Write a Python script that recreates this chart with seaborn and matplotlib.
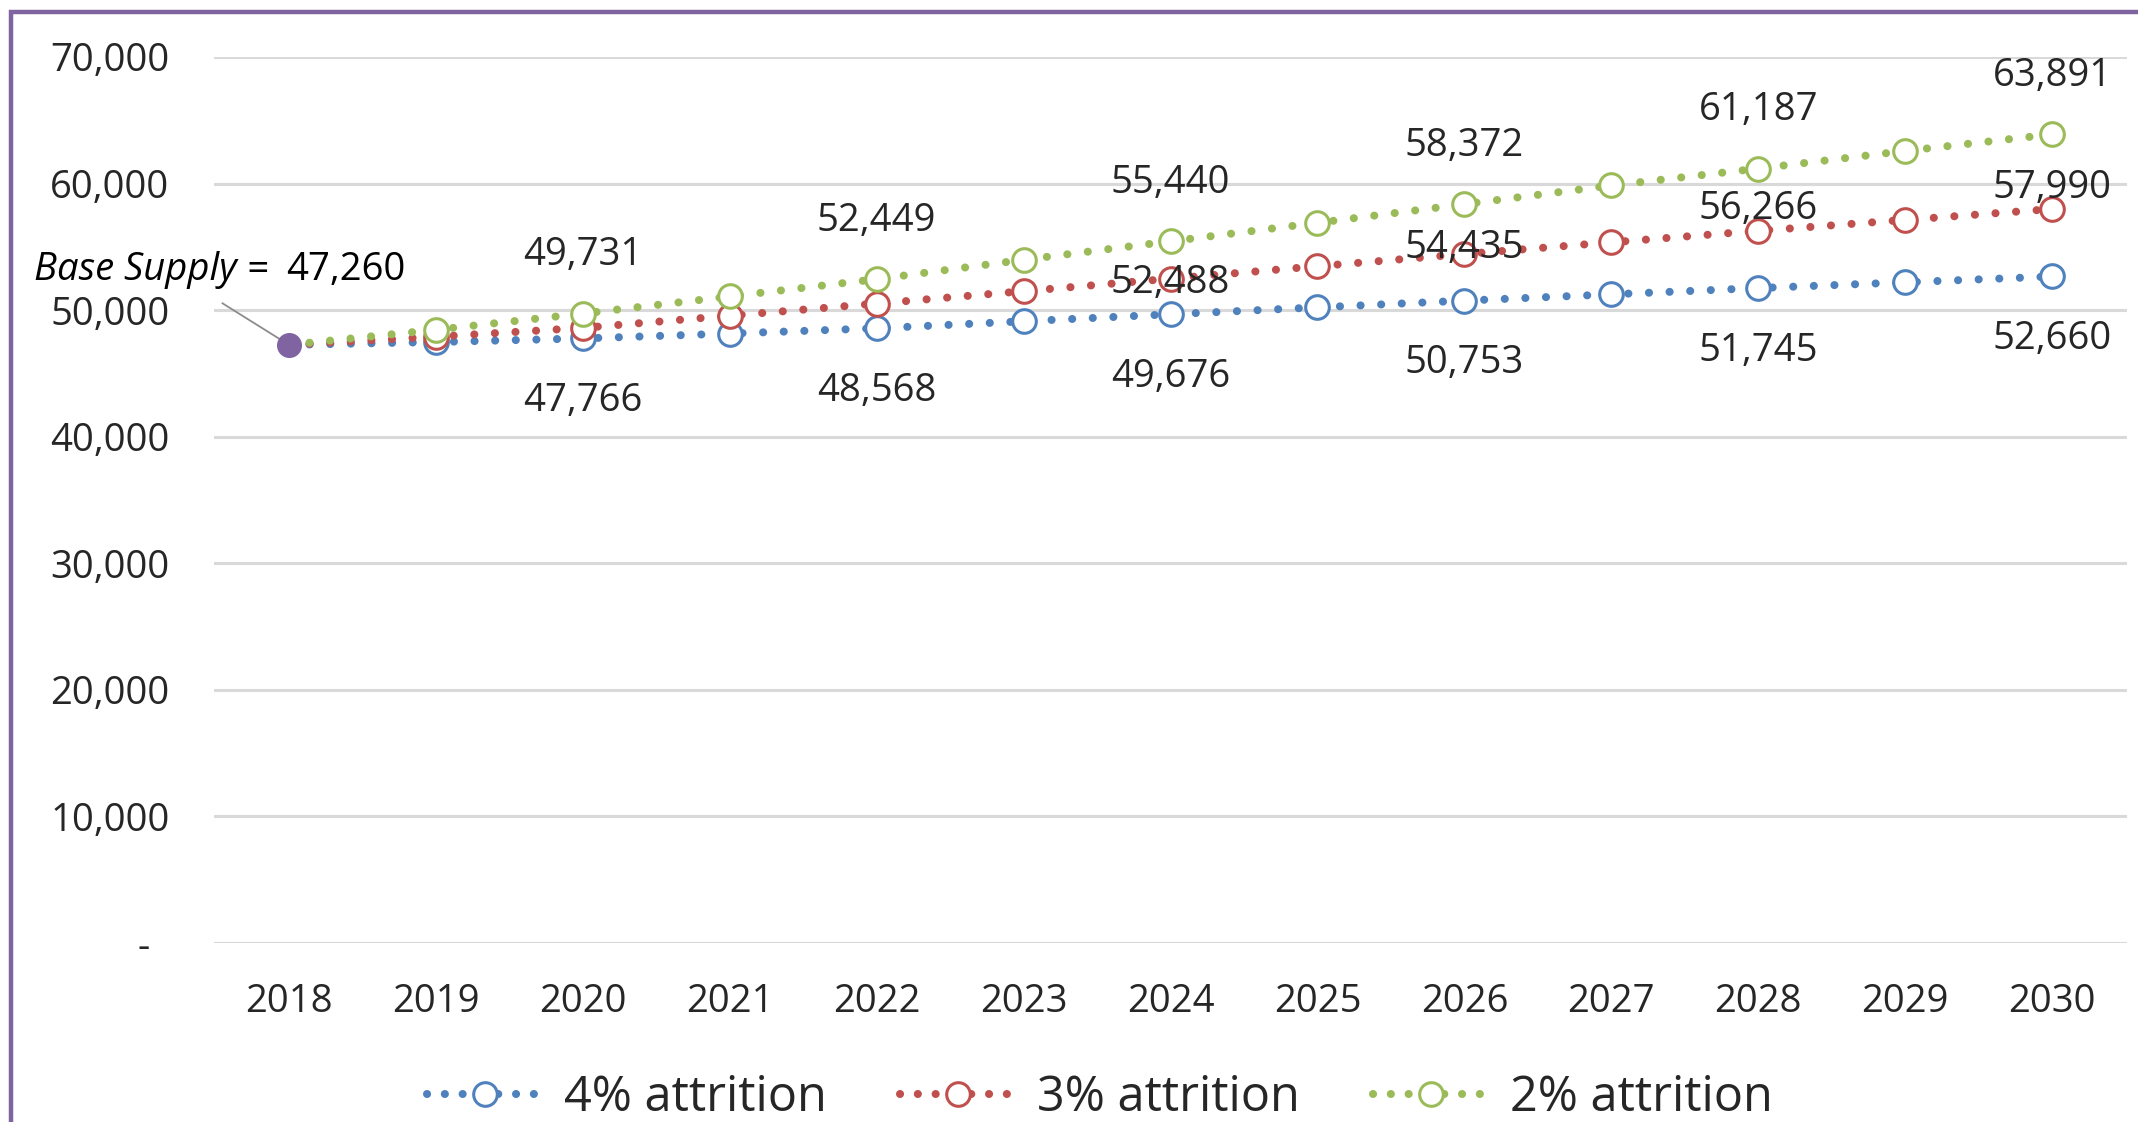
import matplotlib
matplotlib.use("Agg")
import matplotlib.pyplot as plt
from matplotlib.lines import Line2D
from matplotlib.patches import Rectangle
import seaborn as sns

# data
years = [2018, 2019, 2020, 2021, 2022, 2023, 2024, 2025, 2026, 2027, 2028, 2029, 2030]
attr4 = [47260, 47480, 47766, 48150, 48568, 49120, 49676, 50220, 50753, 51250, 51745, 52200, 52660]
attr3 = [47260, 47900, 48600, 49560, 50520, 51500, 52488, 53470, 54435, 55360, 56266, 57130, 57990]
attr2 = [47260, 48450, 49731, 51080, 52449, 53980, 55440, 56900, 58372, 59850, 61187, 62580, 63891]
series_names = ["4% attrition", "3% attrition", "2% attrition"]
base_supply = 47260
yticks = [0, 10000, 20000, 30000, 40000, 50000, 60000, 70000]
ytick_labels = ["-  ", "10,000", "20,000", "30,000", "40,000", "50,000", "60,000", "70,000"]

# which years carry labels
label_years_4 = [2020, 2022, 2024, 2026, 2028, 2030]
label_years_3 = [2024, 2026, 2028, 2030]
label_years_2 = [2020, 2022, 2024, 2026, 2028, 2030]
red_offsets = [-3, 4, 16, 15]  # points, label placement near red markers

blue, red, green, purple = "#4F81BD", "#C0504D", "#9BBB59", "#8064A2"

sns.set_theme(style="white")
plt.rcParams["font.family"] = ["Open Sans", "DejaVu Sans"]
FS = 27.5

fig = plt.figure(figsize=(21.38, 11.22), dpi=100)
ax = fig.add_axes([0.1001, 0.1595, 0.8948, 0.7897])

dot = (0, (0.01, 2.55))
for vals, col in zip([attr4, attr3, attr2], [blue, red, green]):
    sns.lineplot(x=years, y=vals, ax=ax, color=col, lw=5.8, linestyle=dot,
                 dash_capstyle="round", marker="o", markersize=17,
                 markerfacecolor="white", markeredgecolor=col, markeredgewidth=2.2,
                 markevery=list(range(1, len(years))), zorder=3)

# base supply point
ax.plot([years[0]], [base_supply], "o", color=purple, markersize=17, zorder=5)
ax.annotate("", xy=(years[0], base_supply), xytext=(-48, 30), textcoords="offset points",
            arrowprops=dict(arrowstyle="-", color="#8C8C8C", lw=1.3, shrinkA=0, shrinkB=5))
ax.annotate("Base Supply =", xy=(years[0], base_supply), xytext=(-15, 54),
            textcoords="offset points", ha="right", va="center", fontsize=FS,
            style="italic", color="black")
ax.annotate(f"{base_supply:,}", xy=(years[0], base_supply), xytext=(-2, 54),
            textcoords="offset points", ha="left", va="center", fontsize=FS, color="black")

# data labels
for y in label_years_2:
    v = attr2[years.index(y)]
    ax.annotate(f"{v:,}", xy=(y, v), xytext=(0, 42), textcoords="offset points",
                ha="center", va="center", fontsize=FS)
for y in label_years_4:
    v = attr4[years.index(y)]
    ax.annotate(f"{v:,}", xy=(y, v), xytext=(0, -45), textcoords="offset points",
                ha="center", va="center", fontsize=FS)
for y, off in zip(label_years_3, red_offsets):
    v = attr3[years.index(y)]
    ax.annotate(f"{v:,}", xy=(y, v), xytext=(0, off), textcoords="offset points",
                ha="center", va="center", fontsize=FS, zorder=6)

ax.set_xlim(years[0] - 0.51, years[-1] + 0.51)
ax.set_ylim(0, 70000)
ax.set_yticks(yticks)
ax.set_yticklabels(ytick_labels)
ax.set_xticks(years)
ax.set_xticklabels([str(y) for y in years])
ax.tick_params(axis="y", length=0, pad=32, labelsize=FS)
ax.tick_params(axis="x", length=0, pad=29, labelsize=FS)
ax.grid(axis="y", color="#D9D9D9", lw=2.2)
ax.set_axisbelow(True)
for s in ax.spines.values():
    s.set_visible(False)
ax.set_xlabel("")
ax.set_ylabel("")

# legend
handles = [Line2D([], [], color=c, lw=5.8, linestyle=(0, (0.01, 2.2)), dash_capstyle="round",
                  marker="o", markersize=17, markerfacecolor="white",
                  markeredgecolor=c, markeredgewidth=2.2)
           for c in [blue, red, green]]
fig.legend(handles, series_names, loc="center", bbox_to_anchor=(0.5144, 0.021),
           ncol=3, frameon=False, fontsize=35, numpoints=1, handlelength=2.4,
           handletextpad=0.42, columnspacing=1.5)

# outer purple frame (cropped on right and bottom)
fig.patches.append(Rectangle((11 / 2138, -0.1), 1.2, 1 - 12 / 1122 + 0.1,
                             transform=fig.transFigure, fill=False,
                             edgecolor=purple, lw=3.2, zorder=0))

fig.savefig("out.png", dpi=100)
